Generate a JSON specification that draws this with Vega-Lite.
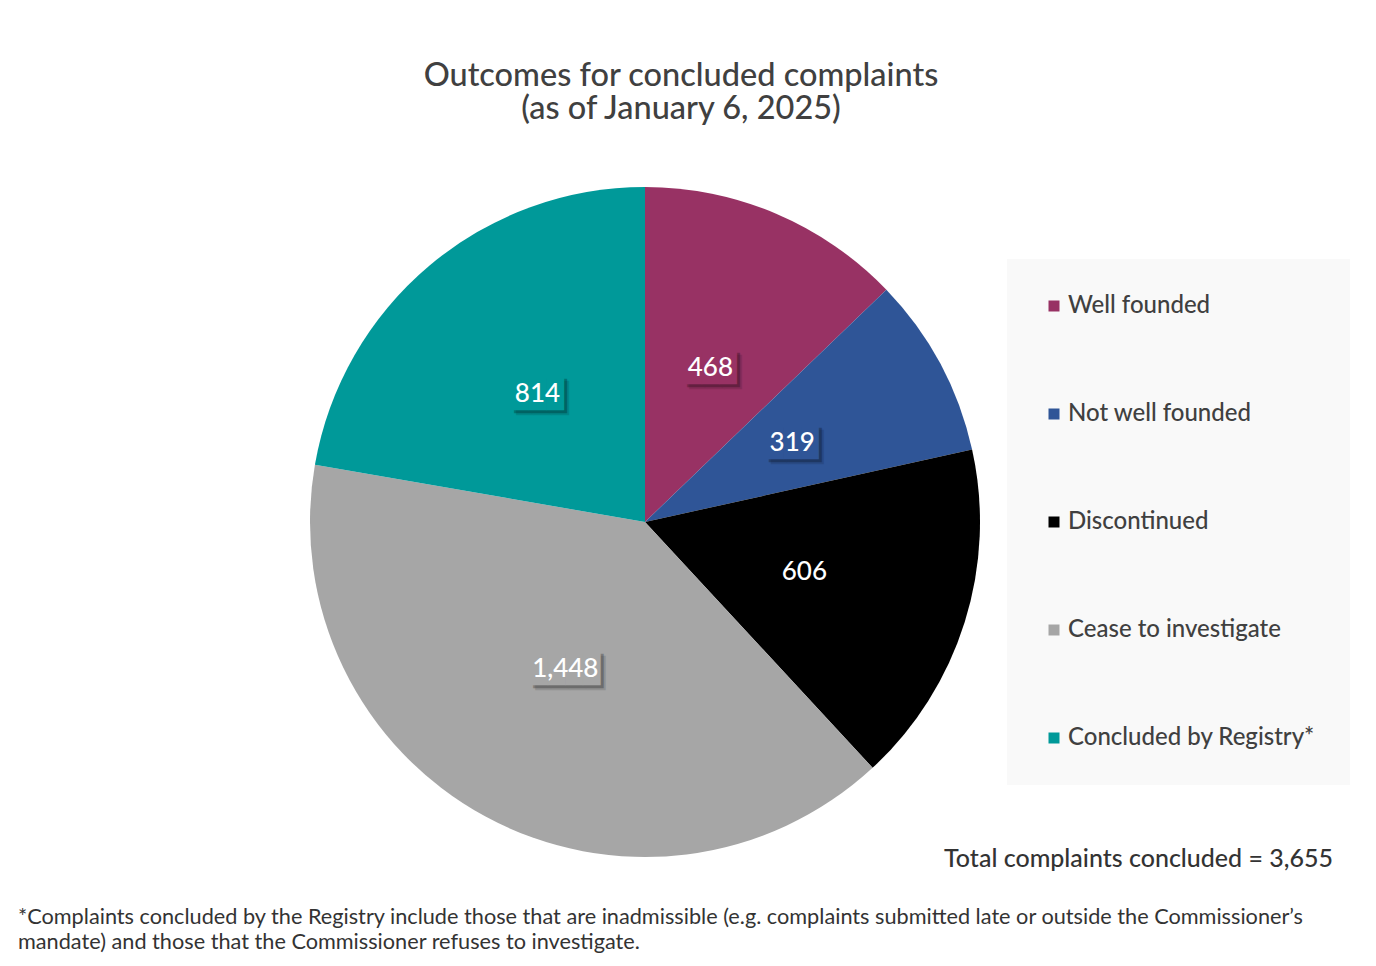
{
  "$schema": "https://vega.github.io/schema/vega-lite/v6.json",
  "background": "white",
  "padding": {"left": 18, "top": 59, "right": 10, "bottom": 10},
  "autosize": {"type": "pad"},
  "bounds": "flush",
  "spacing": 20,
  "config": {"view": {"stroke": null}, "font": "Lato"},
  "vconcat": [
    {
      "width": 670,
      "height": 670,
      "title": {
        "text": ["Outcomes for concluded complaints", "(as of January 6, 2025)"],
        "fontSize": 32.5,
        "fontWeight": 500,
        "color": "#404040",
        "lineHeight": 33,
        "anchor": "middle",
        "frame": "group",
        "dx": 36,
        "offset": 62
      },
      "data": {
        "values": [
          {"category": "Well founded", "value": 468, "order": 1},
          {"category": "Not well founded", "value": 319, "order": 2},
          {"category": "Discontinued", "value": 606, "order": 3},
          {"category": "Cease to investigate", "value": 1448, "order": 4},
          {"category": "Concluded by Registry*", "value": 814, "order": 5}
        ]
      },
      "transform": [
        {"calculate": "datum.category === 'Discontinued' ? '' : (datum.value >= 1000 ? '████' : '███')", "as": "box"}
      ],
      "encoding": {
        "theta": {"field": "value", "type": "quantitative", "stack": true},
        "order": {"field": "order", "type": "quantitative"},
        "color": {
          "field": "category",
          "type": "nominal",
          "sort": null,
          "scale": {
            "domain": ["Well founded", "Not well founded", "Discontinued", "Cease to investigate", "Concluded by Registry*"],
            "range": ["#983264", "#2F5597", "#000000", "#A6A6A6", "#009999"]
          },
          "legend": {
            "title": null,
            "orient": "none",
            "legendX": 697,
            "legendY": 72,
            "symbolType": "square",
            "symbolSize": 121,
            "symbolStrokeWidth": 0,
            "labelFontSize": 24,
            "labelFont": "Lato",
            "labelFontWeight": 500,
            "labelColor": "#404040",
            "labelOffset": 2,
            "labelLimit": 400,
            "rowPadding": 84,
            "padding": 35,
            "fillColor": "#f9f9f9"
          }
        }
      },
      "layer": [
        {"mark": {"type": "arc", "outerRadius": 335}},
        {
          "mark": {"type": "text", "radius": 167, "font": "DejaVu Sans Mono", "fontSize": 29, "dx": 5, "dy": 5, "opacity": 0.12, "baseline": "middle"},
          "encoding": {"text": {"field": "box"}, "color": {"value": "black"}}
        },
        {
          "mark": {"type": "text", "radius": 167, "font": "DejaVu Sans Mono", "fontSize": 29, "dx": 3, "dy": 3, "opacity": 0.25, "baseline": "middle"},
          "encoding": {"text": {"field": "box"}, "color": {"value": "black"}}
        },
        {
          "mark": {"type": "text", "radius": 167, "font": "DejaVu Sans Mono", "fontSize": 29, "baseline": "middle"},
          "encoding": {"text": {"field": "box"}}
        },
        {
          "mark": {"type": "text", "radius": 167, "font": "Lato", "fontSize": 26, "fontWeight": 500, "baseline": "middle"},
          "encoding": {"text": {"field": "value", "type": "quantitative", "format": ","}, "color": {"value": "white"}}
        }
      ]
    },
    {
      "width": 1023,
      "height": 1,
      "data": {"values": [{}]},
      "mark": {"type": "text", "opacity": 0},
      "encoding": {"text": {"value": ""}},
      "title": {
        "text": "Total complaints concluded = 3,655",
        "anchor": "end",
        "frame": "group",
        "orient": "top",
        "baseline": "alphabetic",
        "offset": -20,
        "fontSize": 25,
        "fontWeight": 500,
        "color": "#333333"
      }
    },
    {
      "width": 1023,
      "height": 1,
      "data": {"values": [{}]},
      "mark": {"type": "text", "opacity": 0},
      "encoding": {"text": {"value": ""}},
      "title": {
        "text": [
          "*Complaints concluded by the Registry include those that are inadmissible (e.g. complaints submitted late or outside the Commissioner’s",
          "mandate) and those that the Commissioner refuses to investigate."
        ],
        "anchor": "start",
        "frame": "group",
        "orient": "bottom",
        "baseline": "top",
        "offset": 3,
        "dx": -292,
        "fontSize": 21.7,
        "fontWeight": 400,
        "color": "#333333",
        "lineHeight": 25
      }
    }
  ]
}
